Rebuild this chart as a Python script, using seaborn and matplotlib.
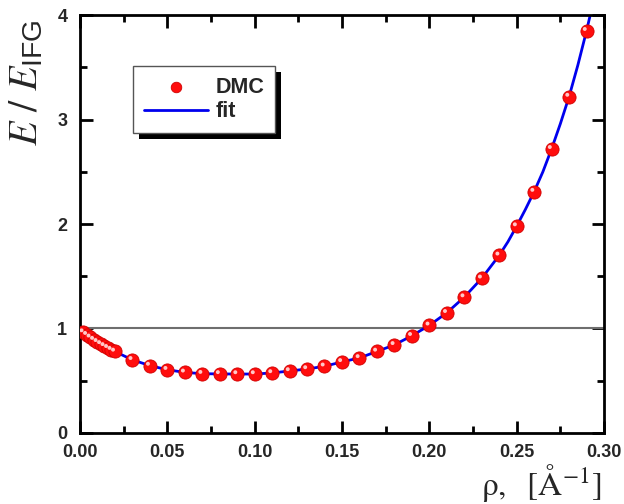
import matplotlib
matplotlib.use("Agg")
import matplotlib.pyplot as plt
import matplotlib.transforms as mtransforms
import seaborn as sns
import pandas as pd
from matplotlib.patches import Rectangle
from matplotlib.ticker import MultipleLocator

# DMC data
rho_dmc = [0.002, 0.004, 0.006, 0.008, 0.010, 0.012, 0.014, 0.016, 0.018, 0.020,
           0.03, 0.04, 0.05, 0.06, 0.07, 0.08, 0.09, 0.10, 0.11, 0.12, 0.13, 0.14,
           0.15, 0.16, 0.17, 0.18, 0.19, 0.20, 0.21, 0.22, 0.23, 0.24, 0.25, 0.26,
           0.27, 0.28, 0.29]
e_dmc = [0.965, 0.94, 0.915, 0.893, 0.872, 0.852, 0.833, 0.815, 0.797, 0.78,
         0.70, 0.645, 0.605, 0.58, 0.567, 0.565, 0.564, 0.564, 0.574, 0.593, 0.612, 0.638,
         0.68, 0.718, 0.78, 0.843, 0.93, 1.03, 1.15, 1.30, 1.48, 1.70, 1.98, 2.31,
         2.72, 3.22, 3.85]

# fit curve
rho_fit = [0.0, 0.002, 0.005, 0.01, 0.015, 0.02, 0.03, 0.04, 0.05, 0.06, 0.07, 0.08,
           0.09, 0.10, 0.11, 0.12, 0.13, 0.14, 0.15, 0.16, 0.17, 0.18, 0.19, 0.20,
           0.21, 0.22, 0.23, 0.24, 0.245, 0.25, 0.255, 0.26, 0.265, 0.27, 0.275,
           0.28, 0.285, 0.29, 0.2925]
e_fit = [1.0, 0.965, 0.93, 0.872, 0.824, 0.78, 0.70, 0.645, 0.605, 0.58, 0.567, 0.565,
         0.564, 0.564, 0.574, 0.593, 0.612, 0.638, 0.68, 0.718, 0.78, 0.843, 0.93, 1.03,
         1.15, 1.30, 1.48, 1.70, 1.83, 1.98, 2.14, 2.31, 2.50, 2.72, 2.96,
         3.22, 3.52, 3.85, 4.03]

x_ticks = [0.00, 0.05, 0.10, 0.15, 0.20, 0.25, 0.30]
x_ticklabels = ["0.00", "0.05", "0.10", "0.15", "0.20", "0.25", "0.30"]
y_ticks = [0, 1, 2, 3, 4]

sns.set_theme(style="ticks")
plt.rcParams["font.family"] = ["Liberation Sans", "DejaVu Sans"]
plt.rcParams["mathtext.fontset"] = "stix"

fig = plt.figure(figsize=(6.24, 5.04), dpi=100)
ax = fig.add_axes([0.128, 0.141, 0.840, 0.829])

df_fit = pd.DataFrame({"rho": rho_fit, "E": e_fit})
df_dmc = pd.DataFrame({"rho": rho_dmc, "E": e_dmc})

ax.axhline(1.0, color="#6e6e6e", lw=1.5, zorder=1)
sns.lineplot(data=df_fit, x="rho", y="E", ax=ax, color="#0000ee", lw=2,
             label="fit", zorder=2, sort=False)
sns.scatterplot(data=df_dmc, x="rho", y="E", ax=ax, color="#ff0d0d", s=90,
                edgecolor="#d00000", linewidth=0.6, label="DMC", zorder=3)
# specular highlight on each sphere
n_before = len(ax.collections)
sns.scatterplot(data=df_dmc, x="rho", y="E", ax=ax, color="#ffc8c8", s=8,
                edgecolor="none", linewidth=0, zorder=4, legend=False)
hl = ax.collections[n_before]
hl.set_offset_transform(ax.transData +
                        mtransforms.ScaledTranslation(-1.3 / 72, 1.3 / 72, fig.dpi_scale_trans))

ax.set_xlim(0, 0.30)
ax.set_ylim(0, 4)
ax.set_xticks(x_ticks)
ax.set_xticklabels(x_ticklabels)
ax.set_yticks(y_ticks)
ax.xaxis.set_minor_locator(MultipleLocator(0.025))
ax.yaxis.set_minor_locator(MultipleLocator(0.5))
ax.tick_params(which="both", direction="in", top=True, right=True, width=2, color="black")
ax.tick_params(which="major", length=9, labelsize=13, pad=9)
ax.tick_params(axis="x", which="major", pad=8)
ax.tick_params(which="minor", length=5)
for lbl in ax.get_xticklabels() + ax.get_yticklabels():
    lbl.set_fontweight("bold")
for sp in ax.spines.values():
    sp.set_linewidth(2)
    sp.set_color("black")

ax.set_xlabel("")
ax.set_ylabel("")
fig.text(0.965, 0.0, r"$\mathrm{\rho,\ \ [\AA^{-1}]}$", ha="right", va="bottom", fontsize=24)
fig.text(0.012, 0.835, r"$E\ /\ E_{\mathregular{IFG}}$", rotation=90, ha="left",
         va="center", fontsize=29)

handles, labels = ax.get_legend_handles_labels()
order = [labels.index("DMC"), labels.index("fit")]
leg = ax.legend([handles[i] for i in order], [labels[i] for i in order],
                loc="upper left", bbox_to_anchor=(0.101, 0.878), borderaxespad=0,
                frameon=True, fancybox=False, edgecolor="#555555", framealpha=1,
                prop={"weight": "bold", "size": 15.5}, handlelength=3.0,
                handletextpad=0.35, borderpad=0.5, labelspacing=0.15,
                markerscale=0.8)
leg.get_frame().set_linewidth(1.0)
leg.set_zorder(10)

fig.canvas.draw()
bb = leg.get_window_extent()
shadow = Rectangle((bb.x0 + 6, bb.y0 - 6), bb.width, bb.height, transform=None,
                   facecolor="black", edgecolor="none", zorder=9)
ax.add_artist(shadow)

fig.savefig("out.png", dpi=100)
